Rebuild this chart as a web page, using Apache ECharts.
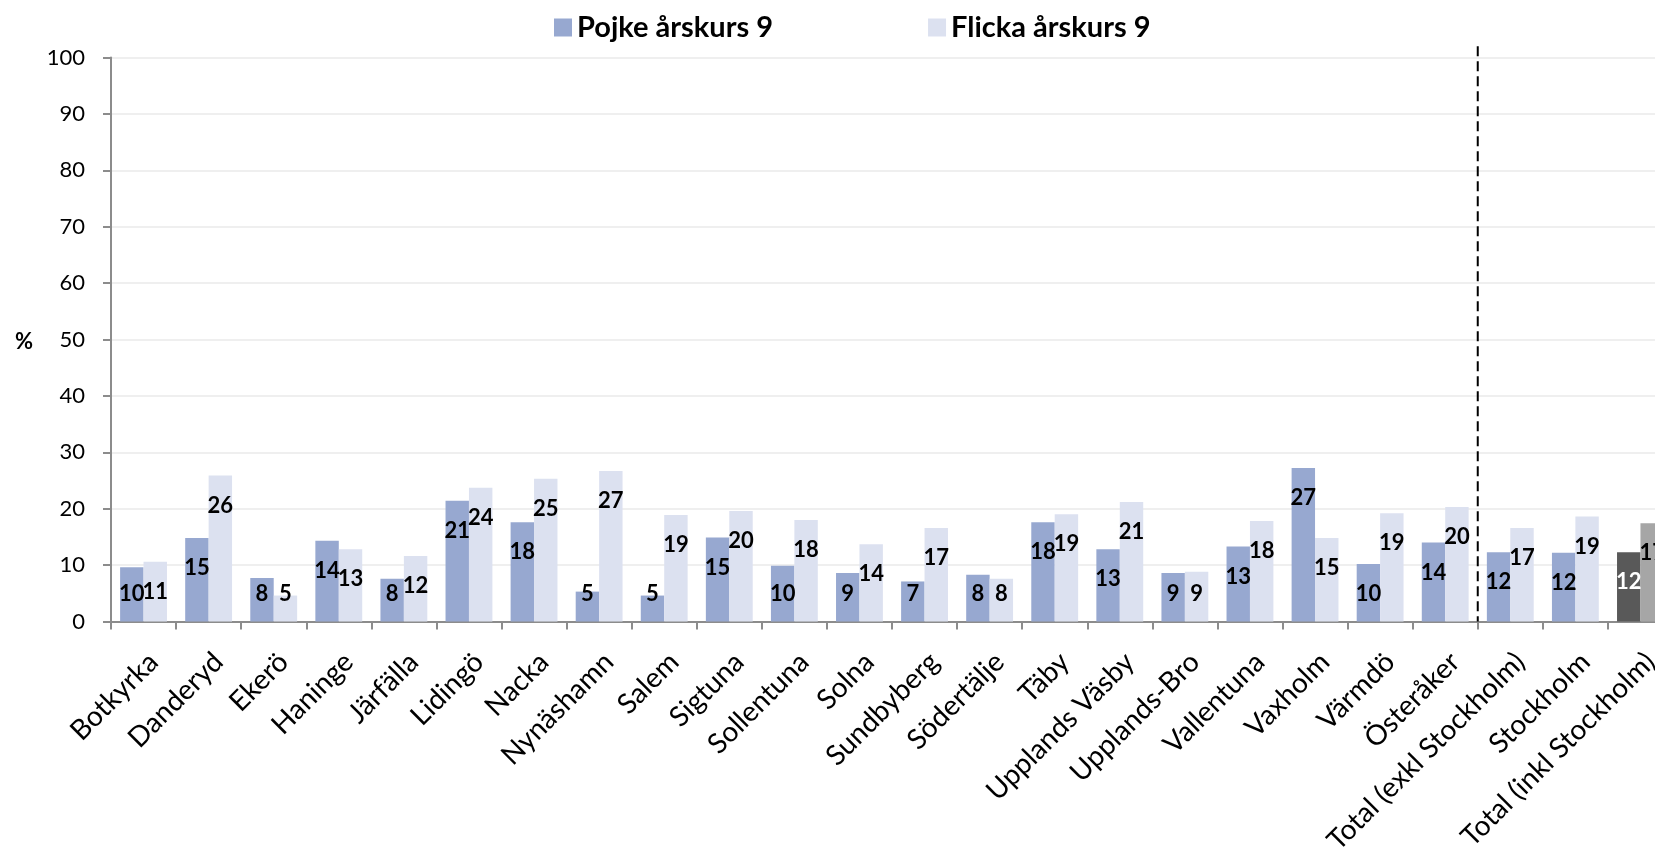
<!DOCTYPE html>
<html><head><meta charset="utf-8">
<script src="https://cdn.jsdelivr.net/npm/echarts@6/dist/echarts.min.js"></script>
<style>html,body{margin:0;padding:0;background:#fff}#c{width:1655px;height:862px}</style>
</head><body><div id="c"></div>
<script>
const categories = ['Botkyrka','Danderyd','Ekerö','Haninge','Järfälla','Lidingö','Nacka','Nynäshamn','Salem','Sigtuna','Sollentuna','Solna','Sundbyberg','Södertälje','Täby','Upplands Väsby','Upplands-Bro','Vallentuna','Vaxholm','Värmdö','Österåker','Total (exkl Stockholm)','Stockholm','Total (inkl Stockholm)'];
const seriesNames = ['Pojke årskurs 9','Flicka årskurs 9'];
const pojke = [9.6,14.8,7.7,14.3,7.6,21.4,17.6,5.3,4.6,14.9,9.9,8.6,7.1,8.3,17.6,12.8,8.6,13.3,27.2,10.2,14.0,12.3,12.2,12.3];
const flicka = [10.6,25.9,4.6,12.8,11.6,23.7,25.3,26.7,18.9,19.6,18.0,13.7,16.6,7.6,19.0,21.2,8.8,17.8,14.8,19.2,20.3,16.6,18.6,17.4];
const yTicks = {min:0, max:100, interval:10};
const highlightCategory = 'Total (inkl Stockholm)';
const dividerAfter = 'Österåker';

const FONT = 'Lato';
const colors = {pojke:'#97A8D0', flicka:'#DCE1F0', pojkeHi:'#595959', flickaHi:'#A6A6A6'};

function makeData(vals, base, hi, hiLabelColor) {
  return vals.map((v, i) => {
    const isHi = categories[i] === highlightCategory;
    const big = v > 10.3;
    return {
      value: v,
      itemStyle: {color: isHi ? hi : base},
      label: {
        position: big ? 'insideTop' : 'insideBottom',
        distance: big ? 19 : 17,
        color: isHi ? hiLabelColor : '#000'
      }
    };
  });
}

const labelBase = {
  show: true, fontFamily: FONT, fontWeight: 'bold', fontSize: 22, lineHeight: 22,
  formatter: p => Math.round(p.value)
};

const chart = echarts.init(document.getElementById('c'), null, {renderer:'canvas'});
chart.setOption({
  animation: false,
  backgroundColor: '#fff',
  textStyle: {fontFamily: FONT},
  legend: {
    top: 8, left: 549, itemGap: 155, itemWidth: 18, itemHeight: 18,
    icon: 'rect',
    textStyle: {fontFamily: FONT, fontWeight: 'bold', fontSize: 29, color: '#000'},
    data: seriesNames
  },
  grid: {left: 111, right: -18, top: 57.5, bottom: 240.5, containLabel: false, outerBoundsMode: 'none'},
  xAxis: {
    type: 'category', data: categories, boundaryGap: true,
    axisLine: {lineStyle: {color: '#8C8C8C', width: 2}},
    axisTick: {show: true, length: 8, lineStyle: {color: '#8C8C8C', width: 2}},
    axisLabel: {interval: 0, rotate: 45, margin: 26, align: 'right', verticalAlign: 'top',
      fontFamily: FONT, fontSize: 28, color: '#000'}
  },
  yAxis: {
    type: 'value', min: yTicks.min, max: yTicks.max, interval: yTicks.interval,
    axisLine: {show: true, lineStyle: {color: '#8C8C8C', width: 2}},
    axisTick: {show: true, length: 8, lineStyle: {color: '#8C8C8C', width: 2}},
    splitLine: {lineStyle: {color: '#EFEFEF', width: 2}},
    axisLabel: {margin: 26, fontFamily: FONT, fontSize: 22, color: '#000'}
  },
  series: [
    {name: seriesNames[0], type: 'bar', barGap: '0%', barCategoryGap: '28%',
     itemStyle: {color: colors.pojke}, label: labelBase,
     data: makeData(pojke, colors.pojke, colors.pojkeHi, '#fff')},
    {name: seriesNames[1], type: 'bar', barGap: '0%', barCategoryGap: '28%',
     itemStyle: {color: colors.flicka}, label: labelBase,
     data: makeData(flicka, colors.flicka, colors.flickaHi, '#000')}
  ]
});

function drawExtras() {
  const i = categories.indexOf(dividerAfter);
  const x1 = chart.convertToPixel({xAxisIndex: 0}, categories[i]);
  const x2 = chart.convertToPixel({xAxisIndex: 0}, categories[i + 1]);
  const x = (x1 + x2) / 2;
  const yTop = chart.convertToPixel({yAxisIndex: 0}, 102);
  const yBot = chart.convertToPixel({yAxisIndex: 0}, 0);
  const y50 = chart.convertToPixel({yAxisIndex: 0}, 50);
  chart.setOption({
    graphic: [
      {type: 'line', shape: {x1: x, y1: yTop, x2: x, y2: yBot},
       style: {stroke: '#000', lineWidth: 2, lineDash: [10, 5]}, z: 10},
      {type: 'text', x: 15, y: y50 + 2, style: {text: '%', fontFamily: FONT, fontWeight: 'bold', fontSize: 22, fill: '#000', verticalAlign: 'middle'}}
    ]
  });
}
drawExtras();
</script></body></html>
